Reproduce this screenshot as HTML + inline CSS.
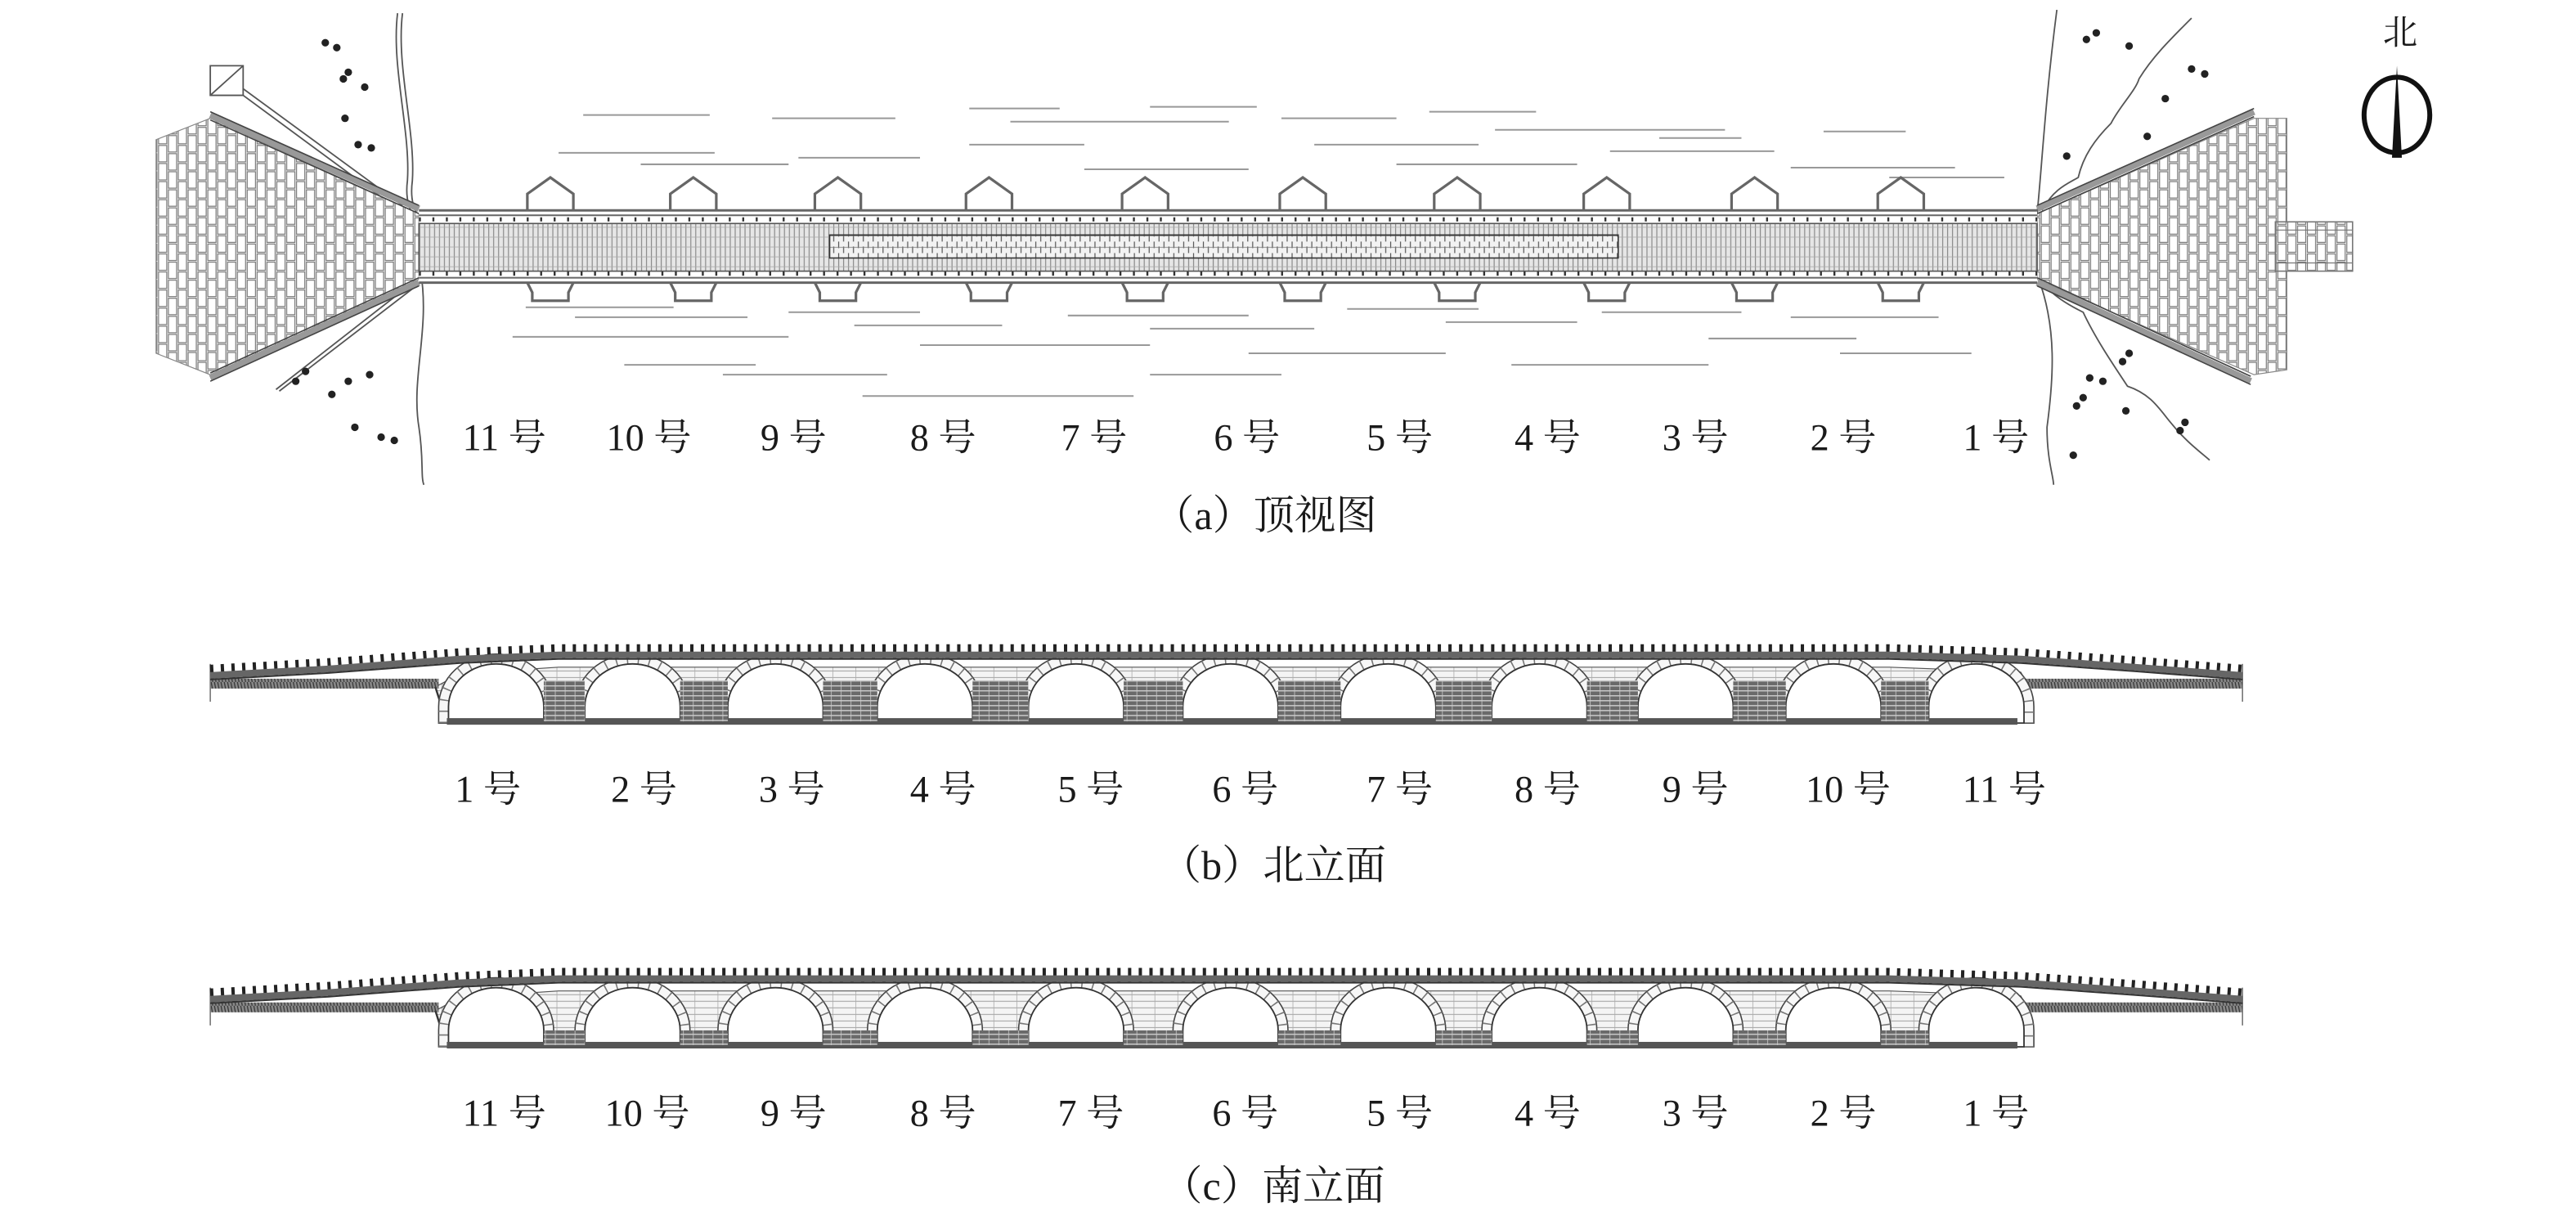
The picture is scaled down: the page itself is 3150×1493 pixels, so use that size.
<!DOCTYPE html>
<html><head><meta charset="utf-8">
<style>
html,body{margin:0;padding:0;background:#fff;}
svg{display:block;}
.t{font-family:"Liberation Serif","Noto Serif CJK SC",serif;font-size:23px;fill:#1a1a1a;text-anchor:middle;}
.c{font-family:"Liberation Serif","Noto Serif CJK SC",serif;font-size:25px;fill:#1a1a1a;text-anchor:middle;}
</style></head>
<body>
<svg width="3150" height="1493" viewBox="0 0 1568 743" preserveAspectRatio="none" xmlns="http://www.w3.org/2000/svg">
<defs>
  <pattern id="brick" width="12" height="22" patternUnits="userSpaceOnUse">
    <rect width="12" height="22" fill="#fff"/>
    <rect x="0.5" y="0.5" width="5" height="10" fill="none" stroke="#777" stroke-width="0.6"/>
    <rect x="0.5" y="11.5" width="5" height="10" fill="none" stroke="#777" stroke-width="0.6"/>
    <rect x="6.5" y="5.5" width="5" height="10" fill="none" stroke="#777" stroke-width="0.6"/>
    <rect x="6.5" y="16.5" width="5" height="10" fill="none" stroke="#777" stroke-width="0.6"/>
    <rect x="6.5" y="-5.5" width="5" height="10" fill="none" stroke="#777" stroke-width="0.6"/>
  </pattern>
  <pattern id="pave" width="3" height="6" patternUnits="userSpaceOnUse">
    <rect width="3" height="6" fill="#e6e6e6"/>
    <line x1="0.5" y1="0" x2="0.5" y2="6" stroke="#8a8a8a" stroke-width="0.6"/>
    <line x1="0" y1="0.3" x2="3" y2="0.3" stroke="#aaa" stroke-width="0.4"/>
  </pattern>
  <pattern id="strip" width="6" height="7" patternUnits="userSpaceOnUse">
    <rect width="6" height="7" fill="#f2f2f2"/>
    <line x1="0.5" y1="0" x2="0.5" y2="4" stroke="#555" stroke-width="0.6"/>
    <line x1="3.5" y1="3" x2="3.5" y2="7" stroke="#555" stroke-width="0.6"/>
    <line x1="0" y1="3.5" x2="6" y2="3.5" stroke="#777" stroke-width="0.4"/>
  </pattern>
  <pattern id="mason" width="14" height="4" patternUnits="userSpaceOnUse">
    <rect width="14" height="4" fill="#f4f4f4"/>
    <line x1="0" y1="0.3" x2="14" y2="0.3" stroke="#999" stroke-width="0.5"/>
    <line x1="3" y1="0" x2="3" y2="4" stroke="#aaa" stroke-width="0.4"/>
  </pattern>
  <pattern id="pier" width="6" height="3" patternUnits="userSpaceOnUse">
    <rect width="6" height="3" fill="#6a6a6a"/>
    <line x1="0" y1="0.4" x2="6" y2="0.4" stroke="#ddd" stroke-width="0.6"/>
    <line x1="2" y1="0" x2="2" y2="3" stroke="#ccc" stroke-width="0.4"/>
  </pattern>
  <pattern id="hatch" width="2" height="5" patternUnits="userSpaceOnUse">
    <rect width="2" height="5" fill="#888"/>
    <line x1="0.5" y1="0" x2="1.5" y2="5" stroke="#333" stroke-width="0.6"/>
  </pattern>
  <g id="arch">
    <path d="M-35,30 L-35,20 A35,32 0 0 1 35,20 L35,30 Z" fill="#f7f7f7" stroke="#444" stroke-width="0.8"/>
    <path d="M-32,30 L-32,20 A32,29 0 0 1 32,20 L32,30" fill="none" stroke="#777" stroke-width="6" stroke-dasharray="0.8 6"/>
    <path d="M-29,30 L-29,20 A29,26 0 0 1 29,20 L29,30 Z" fill="#fff" stroke="#333" stroke-width="0.9"/>
  </g>
  <g id="elev">
    <!-- body -->
    <polygon points="265,418 280,410 340,406 1150,406 1230,409 1235,418 1228,440 272,440" fill="url(#mason)" stroke="#555" stroke-width="0.6"/>
    <!-- approach strips -->
    <rect x="128" y="413" width="139" height="6" fill="url(#hatch)"/>
    <rect x="1233" y="413" width="132" height="6" fill="url(#hatch)"/>
    <line x1="128" y1="404" x2="128" y2="427" stroke="#777" stroke-width="0.8"/>
    <line x1="1365" y1="404" x2="1365" y2="427" stroke="#777" stroke-width="0.8"/>
    <line x1="265" y1="418" x2="272" y2="440" stroke="#333" stroke-width="1.2"/>
    <line x1="1235" y1="418" x2="1228" y2="440" stroke="#333" stroke-width="1.2"/>
    <!-- arches -->
    <use href="#arch" x="302" y="410"/><use href="#arch" x="385" y="410"/><use href="#arch" x="472" y="410"/>
    <use href="#arch" x="563" y="410"/><use href="#arch" x="655" y="410"/><use href="#arch" x="749" y="410"/>
    <use href="#arch" x="845" y="410"/><use href="#arch" x="937" y="410"/><use href="#arch" x="1026" y="410"/>
    <use href="#arch" x="1116" y="410"/><use href="#arch" x="1203" y="410"/>
    <!-- bottom -->
    <rect x="272" y="437" width="956" height="4" fill="#555"/>
    <!-- railing -->
    <polyline points="128,409 200,405 280,399 340,396.5 1150,396.5 1230,399 1300,404 1365,409" fill="none" stroke="#222" stroke-width="9" stroke-dasharray="2 4.5"/>
    <polyline points="128,411 200,407 280,401 340,398.5 1150,398.5 1230,401 1300,406 1365,411" fill="none" stroke="#666" stroke-width="4"/>
    <polyline points="128,413.5 200,409.5 280,403.5 340,401 1150,401 1230,403.5 1300,408.5 1365,413.5" fill="none" stroke="#333" stroke-width="1"/>
  </g>
</defs>

<!-- ===== TOP VIEW ===== -->
<!-- water lines -->
<g stroke="#999" stroke-width="1">
  <line x1="355" y1="70" x2="432" y2="70"/><line x1="470" y1="72" x2="545" y2="72"/>
  <line x1="590" y1="66" x2="645" y2="66"/><line x1="615" y1="74" x2="748" y2="74"/>
  <line x1="700" y1="65" x2="765" y2="65"/><line x1="780" y1="72" x2="850" y2="72"/>
  <line x1="870" y1="68" x2="935" y2="68"/><line x1="910" y1="79" x2="1050" y2="79"/>
  <line x1="340" y1="93" x2="435" y2="93"/><line x1="486" y1="96" x2="560" y2="96"/>
  <line x1="390" y1="100" x2="480" y2="100"/><line x1="590" y1="88" x2="660" y2="88"/>
  <line x1="660" y1="103" x2="760" y2="103"/><line x1="800" y1="88" x2="900" y2="88"/>
  <line x1="850" y1="100" x2="960" y2="100"/><line x1="980" y1="92" x2="1080" y2="92"/>
  <line x1="1010" y1="84" x2="1060" y2="84"/><line x1="1090" y1="102" x2="1190" y2="102"/>
  <line x1="1110" y1="80" x2="1160" y2="80"/><line x1="1150" y1="108" x2="1220" y2="108"/>
  <line x1="320" y1="187" x2="410" y2="187"/><line x1="350" y1="193" x2="455" y2="193"/>
  <line x1="312" y1="205" x2="480" y2="205"/><line x1="480" y1="190" x2="560" y2="190"/>
  <line x1="520" y1="198" x2="610" y2="198"/><line x1="560" y1="210" x2="700" y2="210"/>
  <line x1="650" y1="192" x2="760" y2="192"/><line x1="700" y1="200" x2="800" y2="200"/>
  <line x1="760" y1="215" x2="880" y2="215"/><line x1="820" y1="188" x2="900" y2="188"/>
  <line x1="880" y1="196" x2="960" y2="196"/><line x1="920" y1="222" x2="1040" y2="222"/>
  <line x1="975" y1="190" x2="1060" y2="190"/><line x1="1040" y1="206" x2="1130" y2="206"/>
  <line x1="1090" y1="193" x2="1180" y2="193"/><line x1="1120" y1="215" x2="1200" y2="215"/>
  <line x1="440" y1="228" x2="540" y2="228"/><line x1="525" y1="241" x2="690" y2="241"/>
  <line x1="380" y1="222" x2="460" y2="222"/><line x1="700" y1="228" x2="780" y2="228"/>
</g>
<!-- banks -->
<g fill="none" stroke="#555" stroke-width="0.9">
  <path d="M242,8 C238,40 250,80 248,110 C246,125 252,132 256,140"/>
  <path d="M245,8 C241,40 253,80 251,110 C249,125 254,130 258,138"/>
  <path d="M256,165 C262,200 250,230 255,260 C258,280 256,290 258,295"/>
  <path d="M1252,6 C1245,60 1243,100 1240,130"/>
  <path d="M1241,170 C1252,200 1250,230 1246,260 C1246,280 1250,290 1250,295"/>
  <path d="M1243,128 C1250,115 1258,112 1265,108 C1268,95 1275,85 1285,75 C1290,65 1300,55 1302,48 C1310,35 1320,25 1334,11"/>
  <path d="M1243,172 C1250,180 1258,185 1268,190 C1275,205 1285,220 1295,235 C1310,240 1315,250 1322,258 C1330,268 1338,274 1345,280"/>
  <polygon points="128,40 148,40 148,58 128,58"/><line x1="128" y1="58" x2="148" y2="40"/>
  <path d="M148,54 L245,125 M148,58 L243,128"/>
  <path d="M168,237 L250,173 M170,238 L252,175"/>
</g>
<!-- trees -->
<g fill="#222">
  <circle cx="198" cy="26" r="2.3"/><circle cx="205" cy="29" r="2.3"/><circle cx="212" cy="44" r="2.3"/><circle cx="209" cy="48" r="2.3"/>
  <circle cx="222" cy="53" r="2.3"/><circle cx="210" cy="72" r="2.3"/><circle cx="218" cy="88" r="2.3"/><circle cx="226" cy="90" r="2.3"/>
  <circle cx="180" cy="232" r="2.3"/><circle cx="186" cy="226" r="2.3"/><circle cx="202" cy="240" r="2.3"/><circle cx="212" cy="232" r="2.3"/>
  <circle cx="225" cy="228" r="2.3"/><circle cx="216" cy="260" r="2.3"/><circle cx="232" cy="266" r="2.3"/><circle cx="240" cy="268" r="2.3"/>
  <circle cx="1270" cy="24" r="2.3"/><circle cx="1276" cy="20" r="2.3"/><circle cx="1296" cy="28" r="2.3"/><circle cx="1334" cy="42" r="2.3"/>
  <circle cx="1342" cy="45" r="2.3"/><circle cx="1318" cy="60" r="2.3"/><circle cx="1307" cy="83" r="2.3"/><circle cx="1258" cy="95" r="2.3"/>
  <circle cx="1292" cy="220" r="2.3"/><circle cx="1296" cy="215" r="2.3"/><circle cx="1272" cy="230" r="2.3"/><circle cx="1280" cy="232" r="2.3"/>
  <circle cx="1264" cy="247" r="2.3"/><circle cx="1268" cy="242" r="2.3"/><circle cx="1294" cy="250" r="2.3"/><circle cx="1327" cy="262" r="2.3"/>
  <circle cx="1330" cy="257" r="2.3"/><circle cx="1262" cy="277" r="2.3"/>
</g>
<!-- abutments -->
<polygon points="95,85 128,72 255,130 255,170 128,228 95,215" fill="url(#brick)" stroke="#888" stroke-width="0.6"/>
<polygon points="1240,130 1372,72 1392,72 1392,225 1372,228 1240,170" fill="url(#brick)" stroke="#888" stroke-width="0.6"/>
<rect x="1385" y="135" width="47" height="30" fill="url(#brick)" stroke="#777" stroke-width="0.8"/>
<line x1="1385" y1="140" x2="1432" y2="140" stroke="#777" stroke-width="0.6"/>
<line x1="1385" y1="160" x2="1432" y2="160" stroke="#777" stroke-width="0.6"/>
<g fill="none" stroke="#444">
  <path d="M128,70 L255,127" stroke-width="4" stroke="#999"/><path d="M128,68 L255,125" stroke-width="0.8"/><path d="M128,73 L255,130" stroke-width="0.8"/>
  <path d="M128,230 L255,172" stroke-width="4" stroke="#999"/><path d="M128,232 L255,174" stroke-width="0.8"/><path d="M128,227 L255,169" stroke-width="0.8"/>
  <path d="M1240,127 L1372,68" stroke-width="4" stroke="#999"/><path d="M1240,125 L1372,66" stroke-width="0.8"/><path d="M1240,130 L1372,71" stroke-width="0.8"/>
  <path d="M1240,172 L1370,232" stroke-width="4" stroke="#999"/><path d="M1240,174 L1370,234" stroke-width="0.8"/><path d="M1240,169 L1370,229" stroke-width="0.8"/>
</g>
<!-- cutwaters top -->
<g fill="none" stroke="#666" stroke-width="1.6">
  <path d="M321,128 V118 L335,108 L349,118 V128"/><path d="M408,128 V118 L422,108 L436,118 V128"/>
  <path d="M496,128 V118 L510,108 L524,118 V128"/><path d="M588,128 V118 L602,108 L616,118 V128"/>
  <path d="M683,128 V118 L697,108 L711,118 V128"/><path d="M779,128 V118 L793,108 L807,118 V128"/>
  <path d="M873,128 V118 L887,108 L901,118 V128"/><path d="M964,128 V118 L978,108 L992,118 V128"/>
  <path d="M1054,128 V118 L1068,108 L1082,118 V128"/><path d="M1143,128 V118 L1157,108 L1171,118 V128"/>
  <path d="M321,172 L324,178 V183 H346 V178 L349,172"/><path d="M408,172 L411,178 V183 H433 V178 L436,172"/>
  <path d="M496,172 L499,178 V183 H521 V178 L524,172"/><path d="M588,172 L591,178 V183 H613 V178 L616,172"/>
  <path d="M683,172 L686,178 V183 H708 V178 L711,172"/><path d="M779,172 L782,178 V183 H804 V178 L807,172"/>
  <path d="M873,172 L876,178 V183 H898 V178 L901,172"/><path d="M964,172 L967,178 V183 H989 V178 L992,172"/>
  <path d="M1054,172 L1057,178 V183 H1079 V178 L1082,172"/><path d="M1143,172 L1146,178 V183 H1168 V178 L1171,172"/>
</g>
<!-- deck -->
<rect x="255" y="128" width="985" height="44" fill="#fff"/>
<rect x="255" y="136" width="985" height="29" fill="url(#pave)" stroke="#555" stroke-width="0.8"/>
<g stroke="#666" fill="none">
  <line x1="255" y1="128" x2="1240" y2="128" stroke-width="1.5"/>
  <line x1="255" y1="131" x2="1240" y2="131" stroke-width="1"/>
  <line x1="255" y1="133.5" x2="1240" y2="133.5" stroke-width="2.5" stroke-dasharray="1.2 7" stroke="#333"/>
  <line x1="255" y1="169" x2="1240" y2="169" stroke-width="1"/>
  <line x1="255" y1="172" x2="1240" y2="172" stroke-width="1.5"/>
  <line x1="255" y1="166.5" x2="1240" y2="166.5" stroke-width="2.5" stroke-dasharray="1.2 7" stroke="#333"/>
</g>
<rect x="505" y="143" width="480" height="14" fill="url(#strip)" stroke="#333" stroke-width="0.8"/>
<!-- north arrow -->
<text x="1461" y="27" class="c" style="font-size:21px">北</text>
<ellipse cx="1459" cy="70" rx="20" ry="23" fill="none" stroke="#111" stroke-width="3"/>
<polygon points="1459,40 1462,96 1456,96" fill="#111"/>
<!-- labels top -->
<text class="t" y="274"><tspan x="307">11 号</tspan><tspan x="395">10 号</tspan><tspan x="483">9 号</tspan><tspan x="574">8 号</tspan><tspan x="666">7 号</tspan><tspan x="759">6 号</tspan><tspan x="852">5 号</tspan><tspan x="942">4 号</tspan><tspan x="1032">3 号</tspan><tspan x="1122">2 号</tspan><tspan x="1215">1 号</tspan></text>
<text class="c" x="770" y="322">（a）顶视图</text>

<!-- ===== NORTH ELEVATION ===== -->
<use href="#elev"/>
<g fill="url(#pier)">
  <rect x="331" y="414" width="25" height="25"/><rect x="414" y="414" width="29" height="25"/><rect x="501" y="414" width="33" height="25"/>
  <rect x="592" y="414" width="34" height="25"/><rect x="684" y="414" width="36" height="25"/><rect x="778" y="414" width="38" height="25"/>
  <rect x="874" y="414" width="34" height="25"/><rect x="966" y="414" width="31" height="25"/><rect x="1055" y="414" width="32" height="25"/>
  <rect x="1145" y="414" width="29" height="25"/>
</g>
<text class="t" y="488"><tspan x="297">1 号</tspan><tspan x="392">2 号</tspan><tspan x="482">3 号</tspan><tspan x="574">4 号</tspan><tspan x="664">5 号</tspan><tspan x="758">6 号</tspan><tspan x="852">7 号</tspan><tspan x="942">8 号</tspan><tspan x="1032">9 号</tspan><tspan x="1125">10 号</tspan><tspan x="1220">11 号</tspan></text>
<text class="c" x="775" y="535">（b）北立面</text>

<!-- ===== SOUTH ELEVATION ===== -->
<g transform="translate(0,197)">
  <use href="#elev"/>
  <g fill="url(#pier)">
    <rect x="331" y="430" width="25" height="9"/><rect x="414" y="430" width="29" height="9"/><rect x="501" y="430" width="33" height="9"/>
    <rect x="592" y="430" width="34" height="9"/><rect x="684" y="430" width="36" height="9"/><rect x="778" y="430" width="38" height="9"/>
    <rect x="874" y="430" width="34" height="9"/><rect x="966" y="430" width="31" height="9"/><rect x="1055" y="430" width="32" height="9"/>
    <rect x="1145" y="430" width="29" height="9"/>
  </g>
</g>
<text class="t" y="685"><tspan x="307">11 号</tspan><tspan x="394">10 号</tspan><tspan x="483">9 号</tspan><tspan x="574">8 号</tspan><tspan x="664">7 号</tspan><tspan x="758">6 号</tspan><tspan x="852">5 号</tspan><tspan x="942">4 号</tspan><tspan x="1032">3 号</tspan><tspan x="1122">2 号</tspan><tspan x="1215">1 号</tspan></text>
<text class="c" x="775" y="730">（c）南立面</text>
</svg>
</body></html>
